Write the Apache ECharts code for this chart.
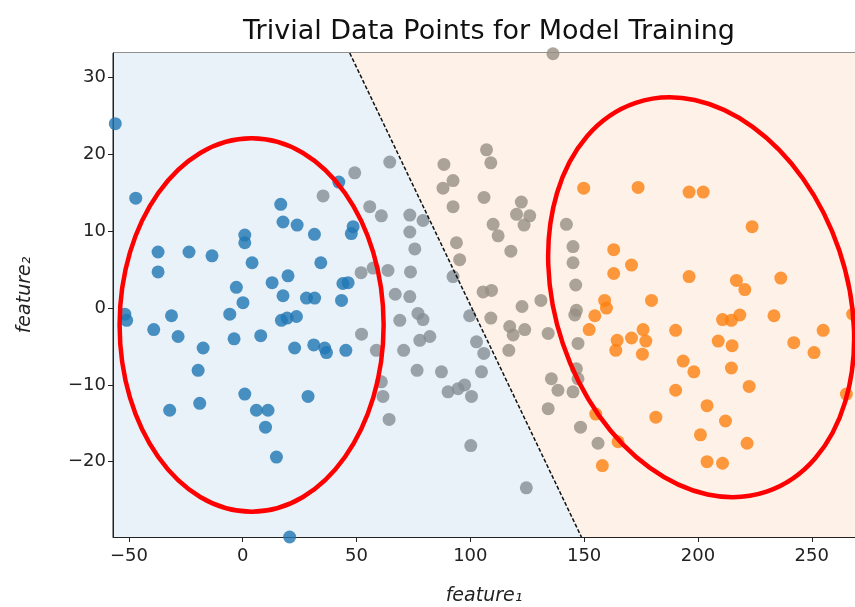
<!DOCTYPE html>
<html><head><meta charset="utf-8">
<script src="https://cdn.jsdelivr.net/npm/echarts@6/dist/echarts.min.js"></script>
<style>html,body{margin:0;padding:0;background:#fff}#c{width:855px;height:607px}</style>
</head><body><div id="c"></div>
<script>
const titleText = 'Trivial Data Points for Model Training';
const xRange = [-57, 269];
const yRange = [-29.8, 33.2];
const xTicks = [-50, 0, 50, 100, 150, 200, 250];
const yTicks = [-20, -10, 0, 10, 20, 30];
// decision boundary: two points on the line (top / bottom of the view)
const boundary = [[47.0, 33.2], [148.8, -29.8]];

const bluePoints = [
 [-56,24],[-47,14.3],[-37.2,7.3],[-37.2,4.7],[-23.6,7.3],[-13.5,6.8],[0.9,9.5],[0.9,8.5],
 [4.1,5.9],[16.7,13.5],[17.7,11.2],[23.9,10.8],[31.5,9.6],[34.3,5.9],[42.2,16.4],[48.5,10.6],
 [47.7,9.7],[19.9,4.2],[12.9,3.3],[-2.8,2.7],[44,3.2],[46.3,3.3],[-51.8,-0.8],[-51,-1.6],
 [-31.3,-1.0],[-39.1,-2.8],[-28.4,-3.7],[-17.4,-5.2],[-19.6,-8.1],[-18.9,-12.4],[-32.1,-13.3],
 [-5.7,-0.8],[0.1,0.7],[-3.8,-4.0],[7.9,-3.6],[17.7,1.6],[28,1.3],[31.6,1.3],[43.4,1.0],
 [17,-1.6],[19.5,-1.3],[23.6,-1.1],[22.8,-5.2],[31.2,-4.8],[36,-5.2],[36.8,-5.8],[45.3,-5.5],
 [0.9,-11.2],[6,-13.3],[11.1,-13.3],[10,-15.5],[14.8,-19.4],[28.7,-11.5],[20.6,-29.8]
];
const grayPoints = [
 [35.3,14.6],[49.2,17.6],[52,4.6],[136.3,33.1],[64.6,19.0],[55.8,13.2],[60.9,12.0],[73.4,12.1],
 [79.2,11.4],[73.4,9.9],[75.6,7.7],[57.3,5.2],[63.8,4.9],[73.7,4.7],[93.9,8.5],[95.3,6.3],
 [92.4,4.1],[67,1.8],[73.4,1.5],[88.4,18.7],[107.1,20.6],[109,18.9],[92.4,16.6],[88,15.6],
 [92.4,13.2],[106,14.4],[110,10.9],[112.2,9.4],[122.4,13.8],[120.3,12.2],[126.1,12.0],[123.6,10.8],
 [117.8,7.4],[142.2,10.9],[145.1,8.0],[145.1,5.9],[146.3,3.0],[105.6,2.1],[109.3,2.3],[131,1.0],
 [52.2,-3.4],[58.7,-5.5],[60.9,-9.6],[61.6,-11.5],[64.3,-14.5],[69,-1.6],[77,-0.7],[79.2,-1.5],
 [70.7,-5.5],[77.8,-4.2],[82.2,-3.7],[76.6,-8.1],[87.3,-8.3],[90.2,-10.9],[94.6,-10.5],[97.5,-10.0],
 [100.5,-11.5],[99.7,-1.0],[102.7,-4.4],[105.9,-5.9],[104.9,-8.3],[100.2,-17.9],[124.6,-23.4],
 [109,-1.3],[122.7,0.2],[117.3,-2.4],[123.9,-2.8],[118.8,-3.5],[116.9,-5.5],[134.2,-3.3],
 [146.6,-0.3],[145.9,-0.9],[147.3,-4.6],[135.6,-9.2],[138.5,-10.7],[146.6,-7.9],[147.3,-9.2],
 [145.1,-10.9],[134.2,-13.1],[148.4,-15.5],[156.1,-17.6]
];
const orangePoints = [
 [149.8,15.6],[173.7,15.7],[196.1,15.1],[202.3,15.1],[223.8,10.6],[163,7.6],[170.8,5.6],[163,4.5],
 [196.1,4.1],[216.9,3.6],[220.6,2.4],[236.4,3.9],[159,1.0],[159.8,0],[179.6,1.0],[154.7,-1.0],
 [152.2,-2.8],[164.5,-4.2],[163.9,-5.5],[170.8,-3.9],[175.9,-2.8],[177.1,-4.3],[175.6,-6.0],
 [190.2,-2.9],[193.5,-6.9],[198.2,-8.3],[190.2,-10.7],[210.8,-1.5],[214.7,-1.6],[218.4,-0.9],
 [208.9,-4.3],[215,-4.9],[214.7,-7.8],[233.4,-1.0],[255,-2.9],[242.1,-4.5],[251,-5.8],
 [222.5,-10.2],[204,-12.7],[212.1,-14.7],[181.5,-14.2],[201.1,-16.5],[221.6,-17.6],[204,-20.0],
 [210.8,-20.2],[155.1,-13.8],[164.9,-17.4],[158,-20.5],[265.2,-11.2],[268,-0.8]
];
// annotation ellipses: [centerX, centerY, halfWidth (x units), halfHeight (y units), tilt deg]
const ellipses = [
 [3.9, -2.2, 58, 24.3, 0],
 [201.4, 1.4, 64.1, 26.7, 18.6]
];

const FONT = 'DejaVu Sans';
const BG_BLUE = '#eaf2f9', BG_ORANGE = '#fef2e8';
function boundaryX(y){
  const [p, q] = boundary;
  return p[0] + (y - p[1]) * (q[0] - p[0]) / (q[1] - p[1]);
}
const minus = v => String(v).replace('-', '\u2212');

const chart = echarts.init(document.getElementById('c'));
chart.setOption({
  animation: false,
  backgroundColor: '#fff',
  title: { text: titleText, left: 484, top: 13, textAlign: 'center',
    textStyle: { fontFamily: FONT, fontSize: 27, fontWeight: 'normal', color: '#111' } },
  grid: { left: 113, right: 0, top: 53, bottom: 70, outerBoundsMode: 'none', containLabel: false,
    show: true, borderColor: '#222', borderWidth: 1, backgroundColor: 'transparent' },
  xAxis: {
    type: 'value', min: xRange[0], max: xRange[1],
    name: 'feature\u2081', nameLocation: 'middle', nameGap: 50,
    nameTextStyle: { fontFamily: FONT, fontSize: 19, fontStyle: 'italic', color: '#222' },
    axisLine: { show: true, onZero: false, lineStyle: { color: '#222' } },
    axisTick: { show: true, length: 5, lineStyle: { color: '#222' }, customValues: xTicks },
    axisLabel: { customValues: xTicks, formatter: minus, fontFamily: FONT, fontSize: 18, color: '#222', margin: 10 },
    splitLine: { show: false }
  },
  yAxis: {
    type: 'value', min: yRange[0], max: yRange[1],
    name: 'feature\u2082', nameLocation: 'middle', nameGap: 78, nameRotate: 90,
    nameTextStyle: { fontFamily: FONT, fontSize: 19, fontStyle: 'italic', color: '#222' },
    axisLine: { show: true, onZero: false, lineStyle: { color: '#222' } },
    axisTick: { show: true, length: 5, lineStyle: { color: '#222' }, customValues: yTicks },
    axisLabel: { customValues: yTicks, formatter: minus, fontFamily: FONT, fontSize: 18, color: '#222', margin: 7 },
    splitLine: { show: false }
  },
  series: [
    {
      type: 'custom', silent: true, z: 0, clip: true,
      data: [[xRange[0], yRange[0]]],
      renderItem: function(params, api){
        const tl = api.coord([xRange[0], yRange[1]]);
        const tr = api.coord([xRange[1], yRange[1]]);
        const br = api.coord([xRange[1], yRange[0]]);
        const bl = api.coord([xRange[0], yRange[0]]);
        const bt = api.coord([boundaryX(yRange[1]), yRange[1]]);
        const bb = api.coord([boundaryX(yRange[0]), yRange[0]]);
        return { type: 'group', children: [
          { type: 'polygon', shape: { points: [tl, bt, bb, bl] }, style: { fill: BG_BLUE } },
          { type: 'polygon', shape: { points: [bt, tr, br, bb] }, style: { fill: BG_ORANGE } }
        ]};
      }
    },
    { type: 'scatter', data: grayPoints, symbolSize: 13, z: 2, clip: true,
      itemStyle: { color: function(p){ return p.data[0] < boundaryX(p.data[1]) ? '#838d93' : '#978f83'; } } },
    { type: 'scatter', data: bluePoints, symbolSize: 13, z: 2, clip: true, itemStyle: { color: '#1f75b3' } },
    { type: 'scatter', data: orangePoints, symbolSize: 13, z: 2, clip: true, itemStyle: { color: '#fd800f' } },
    { type: 'line', data: boundary, symbol: 'none', z: 3, silent: true,
      lineStyle: { color: '#111', width: 1.5, type: [4, 2] } }
  ]
});

const g = ellipses.map(function(e){
  const c = chart.convertToPixel({ gridIndex: 0 }, [e[0], e[1]]);
  const px = chart.convertToPixel({ gridIndex: 0 }, [e[0] + e[2], e[1] + e[3]]);
  return { type: 'ellipse', x: c[0], y: c[1], rotation: e[4] * Math.PI / 180, z: 100,
    shape: { cx: 0, cy: 0, rx: Math.abs(px[0] - c[0]), ry: Math.abs(px[1] - c[1]) },
    style: { fill: 'none', stroke: '#ff0000', lineWidth: 4.5 } };
});
chart.setOption({ graphic: g });
</script></body></html>
